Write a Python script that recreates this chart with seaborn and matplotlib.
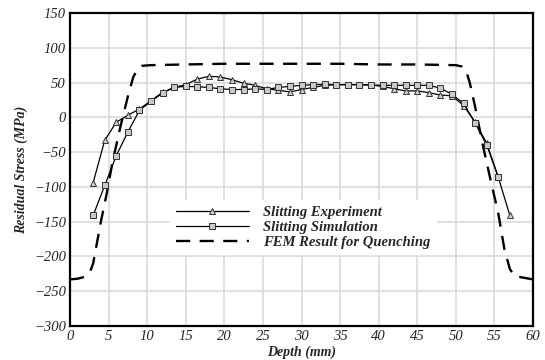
import numpy as np
import pandas as pd
import matplotlib
matplotlib.use("Agg")
import matplotlib.pyplot as plt
from matplotlib.ticker import MultipleLocator
import seaborn as sns

exp_x = [3, 4.5, 6, 7.5, 9, 10.5, 12, 13.5, 15, 16.5, 18, 19.5, 21, 22.5, 24, 25.5, 27, 28.5, 30,
         31.5, 33, 34.5, 36, 37.5, 39, 40.5, 42, 43.5, 45, 46.5, 48, 49.5, 51, 52.5, 54, 55.5, 57]
exp_y = [-94, -33, -7, 3, 12, 24, 36, 43, 47, 55, 59, 58, 54, 49, 46, 41, 39, 36.5, 40,
         43, 46, 47, 47, 47, 46.5, 44.5, 41, 38, 38, 35.5, 32, 31, 17, -7, -37, -86, -141]

sim_x = [3, 4.5, 6, 7.5, 9, 10.5, 12, 13.5, 15, 16.5, 18, 19.5, 21, 22.5, 24, 25.5, 27, 28.5, 30,
         31.5, 33, 34.5, 36, 37.5, 39, 40.5, 42, 43.5, 45, 46.5, 48, 49.5, 51, 52.5, 54, 55.5]
sim_y = [-141, -98, -55, -21, 10, 23, 35, 43, 44.5, 44, 43, 41, 40, 40, 41, 40, 43, 44.5, 46,
         47, 47.5, 47, 47, 47, 46.5, 46, 46, 46, 46, 46, 42, 33, 20, -8, -40, -86]

fem_x = [0, 1, 2, 2.6, 3, 3.5, 4, 4.75, 5.5, 6.5, 7.5, 8.2, 8.8, 9.3, 10.4, 15, 20, 25, 30, 35,
         40, 45, 50, 50.8, 51.3, 51.8, 52.5, 53.5, 54.5, 55.5, 56.3, 57, 57.6, 58.5, 60]
fem_y = [-233, -232, -229, -222, -210, -180, -150, -110, -65, -15, 30, 58, 70, 74, 75, 76, 77, 77, 77, 77,
         76, 76, 75, 73, 68, 50, 15, -40, -90, -138, -190, -218, -228, -230, -233]

labels = ["Slitting Experiment", "Slitting Simulation", "FEM Result for Quenching"]

sns.set_style("white")
plt.rcParams['font.family'] = ['Liberation Serif', 'DejaVu Serif']

fig = plt.figure(figsize=(5.45, 3.6), dpi=100)
ax = fig.add_axes([70/545, 1-326/360, (533-70)/545, (326-13)/360])

ax.grid(True, color="#dadada", linewidth=1.2, zorder=0)
ax.set_axisbelow(True)

sns.lineplot(x=exp_x, y=exp_y, ax=ax, color="black", linewidth=0.9, marker="^", markersize=5,
             markerfacecolor="#d0d0d0", markeredgecolor="#333333", markeredgewidth=0.7,
             label=labels[0], sort=False, zorder=3)
sns.lineplot(x=sim_x, y=sim_y, ax=ax, color="black", linewidth=0.9, marker="s", markersize=4,
             markerfacecolor="#c8c8c8", markeredgecolor="#333333", markeredgewidth=0.7,
             label=labels[1], sort=False, zorder=3)
sns.lineplot(x=fem_x, y=fem_y, ax=ax, color="black", linewidth=1.7, dashes=False,
             label=labels[2], sort=False, zorder=2)
ax.lines[-1].set_dashes([6, 4])

ax.set_xlim(0, 60)
ax.set_ylim(-300, 150)
ax.xaxis.set_major_locator(MultipleLocator(5))
ax.xaxis.set_minor_locator(MultipleLocator(1))
ax.yaxis.set_major_locator(MultipleLocator(50))
ax.yaxis.set_minor_locator(MultipleLocator(10))
ax.tick_params(which="major", direction="in", length=6, width=1.2, top=False, right=False,
               labelsize=10.5, pad=3)
ax.tick_params(which="minor", direction="in", length=3, width=1.0, top=False, right=False)
for lab in ax.get_xticklabels() + ax.get_yticklabels():
    lab.set_fontstyle("italic")
for s in ax.spines.values():
    s.set_linewidth(1.6)
    s.set_color("black")

ax.set_xlabel("Depth (mm)", fontsize=10, fontweight="bold", fontstyle="italic", labelpad=2)
ax.set_ylabel("Residual Stress (MPa)", fontsize=10, fontweight="bold", fontstyle="italic", labelpad=4)

leg = ax.legend(loc="upper left", bbox_to_anchor=(0.2, 0.425), frameon=True, framealpha=1,
                edgecolor="white", facecolor="white", fancybox=False, handlelength=5.0,
                numpoints=1, borderpad=0.4, labelspacing=0.1, handletextpad=1.0,
                prop={"family": "Liberation Serif", "style": "italic", "weight": "bold", "size": 10.5})

fig.savefig("out.png", dpi=100)
